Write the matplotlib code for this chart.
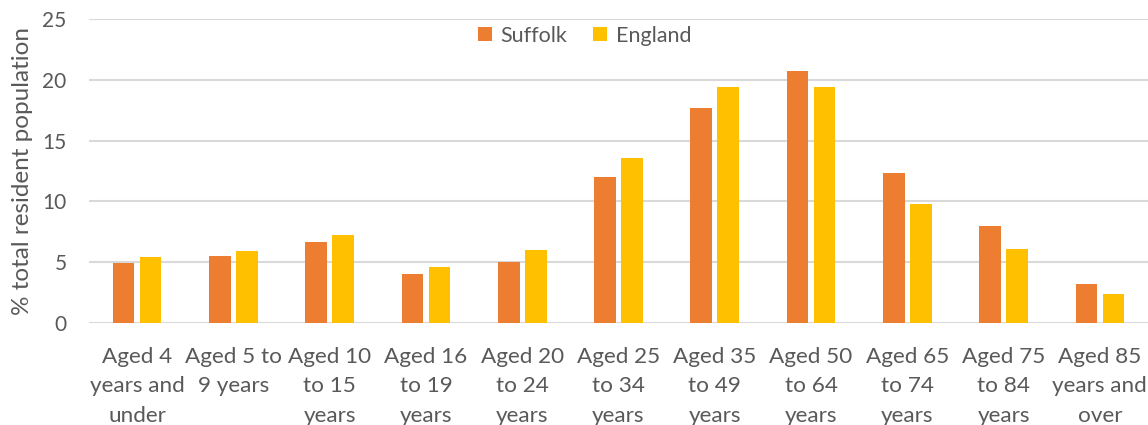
import matplotlib
matplotlib.use("Agg")
import matplotlib.pyplot as plt
import numpy as np

categories = ["Aged 4\nyears and\nunder", "Aged 5 to\n9 years", "Aged 10\nto 15\nyears",
              "Aged 16\nto 19\nyears", "Aged 20\nto 24\nyears", "Aged 25\nto 34\nyears",
              "Aged 35\nto 49\nyears", "Aged 50\nto 64\nyears", "Aged 65\nto 74\nyears",
              "Aged 75\nto 84\nyears", "Aged 85\nyears and\nover"]
suffolk = [4.9, 5.5, 6.7, 4.0, 5.0, 12.0, 17.7, 20.7, 12.3, 8.0, 3.2]
england = [5.4, 5.9, 7.2, 4.6, 6.0, 13.6, 19.4, 19.4, 9.8, 6.1, 2.4]
yticks = [0, 5, 10, 15, 20, 25]

plt.rcParams['font.family'] = ['Lato', 'DejaVu Sans']
txt = '#595959'

fig = plt.figure(figsize=(11.48, 4.25), dpi=100)
ax = fig.add_axes([0.0775, 0.24, 0.9225, 0.715])

x = np.arange(len(categories))
w = 0.225
off = 0.14
ax.bar(x - off, suffolk, w, color='#ED7D31', label='Suffolk', zorder=3)
ax.bar(x + off, england, w, color='#FFC000', label='England', zorder=3)

ax.set_xlim(-0.5, len(categories) - 0.5)
ax.set_ylim(0, 25)
ax.set_yticks(yticks)
ax.yaxis.grid(True, color='#D9D9D9', linewidth=1.5, zorder=0)
ax.set_axisbelow(True)
for s in ax.spines.values():
    s.set_visible(False)
ax.tick_params(axis='both', length=0, colors=txt)
ax.tick_params(axis='x', pad=17, labelsize=16.2)
ax.tick_params(axis='y', pad=16, labelsize=15)
ax.set_xticks(x)
ax.set_xticklabels(categories, linespacing=1.6)
ax.set_ylabel('% total resident population', fontsize=17.5, color=txt, labelpad=7)

leg = ax.legend(loc='center', bbox_to_anchor=(0.468, 0.945), ncol=2, frameon=False,
                fontsize=15.5, handlelength=0.65, handleheight=0.65, columnspacing=1.2,
                handletextpad=0.4)
for t in leg.get_texts():
    t.set_color(txt)

fig.savefig('out.png', dpi=100)
